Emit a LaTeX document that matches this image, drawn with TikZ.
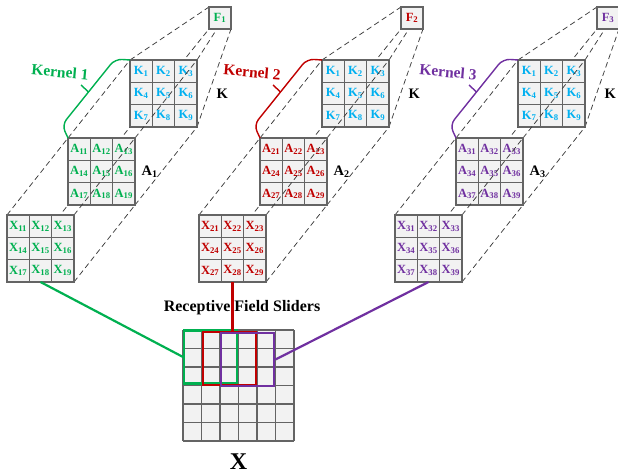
\documentclass[tikz,border=0pt]{standalone}
\usepackage{fontspec}
\setmainfont{Liberation Serif}
\usepackage{xcolor}
\definecolor{kgreen}{RGB}{0,176,80}
\definecolor{kred}{RGB}{192,0,0}
\definecolor{kpurple}{RGB}{112,48,160}
\definecolor{kblue}{RGB}{0,176,240}
\definecolor{cellgray}{RGB}{242,242,242}
\definecolor{edgegray}{RGB}{100,100,100}
\definecolor{dashgray}{RGB}{60,60,60}
\tikzset{
  frame/.style={minimum size=67pt,inner sep=0pt,outer sep=0pt},
  cell/.style={draw=edgegray,fill=cellgray,line width=1.5pt,minimum size=22.33pt,inner sep=0pt,font=\bfseries\fontsize{12.5}{12.5}\selectfont},
  link/.style={draw=dashgray,line width=0.75pt,dash pattern=on 5.5pt off 3.5pt},
  lbl/.style={font=\bfseries\fontsize{14.5}{14.5}\selectfont},
  brace/.style={line width=1.4pt,rounded corners=7pt},
  wire/.style={line width=2.2pt},
  slider/.style={line width=2.4pt,minimum size=53pt,inner sep=0pt}
}
\begin{document}
\begin{tikzpicture}[x=1pt,y=-1pt]
\useasboundingbox(0,0)rectangle(618,476);
% three kernels: input patch, activations, weights, output
\foreach \g/\bx/\gc in {1/7/kgreen,2/199/kred,3/395/kpurple}{
\node[frame](X\g)at(\bx+33.5,248.5){};
\node[frame](A\g)at(\bx+94.5,171.5){};
\node[frame](K\g)at(\bx+156.5,93.5){};
\node[frame,minimum size=22pt](F\g)at(\bx+213,18){};
\foreach \a in {north west,north east,south east,south west}\draw[link](K\g.\a)--(F\g.\a);
\node[cell,minimum size=22pt,text=\gc](Fb\g)at(F\g){F\textsubscript{\g}};
\foreach \r in {0,1,2}\foreach \c in {0,1,2}{\pgfmathtruncatemacro\k{3*\r+\c+1}
  \node[cell,text=kblue](K\g-\k)at([shift={({22.33*\c+11.17},{22.33*\r+11.17})}]K\g.north west){K\textsubscript{\k}};}
\foreach \a in {north west,north east,south east,south west}\draw[link](A\g.\a)--(K\g.\a);
\foreach \r in {0,1,2}\foreach \c in {0,1,2}{\pgfmathtruncatemacro\k{3*\r+\c+1}
  \node[cell,text=\gc](A\g-\k)at([shift={({22.33*\c+11.17},{22.33*\r+11.17})}]A\g.north west){A\textsubscript{\g\k}};}
\foreach \a in {north west,north east,south east,south west}\draw[link](X\g.\a)--(A\g.\a);
\foreach \r in {0,1,2}\foreach \c in {0,1,2}{\pgfmathtruncatemacro\k{3*\r+\c+1}
  \node[cell,text=\gc](X\g-\k)at([shift={({22.33*\c+11.17},{22.33*\r+11.17})}]X\g.north west){X\textsubscript{\g\k}};}
\node[lbl,anchor=west](Kl\g)at([xshift=16pt]K\g.east){K};
\node[lbl,anchor=west](Al\g)at([xshift=3pt]A\g.east){A\textsubscript{\g}};
\node[text=\gc,rotate=-5,font=\bfseries\fontsize{15.5}{15.5}\selectfont](Kn\g)at(\bx+53,72){Kernel \g};
\draw[brace,draw=\gc](A\g.north west)--(\bx+55,125)--(\bx+108,59)--(K\g.north west);
\draw[brace,draw=\gc](\bx+81.5,92)--(\bx+74,85);
}
% input image with sliders
\fill[cellgray](183,330)rectangle(294,441);
\foreach \i in {0,...,6}{\draw[edgegray,line width=1.3pt](183+18.5*\i,330)--(183+18.5*\i,441);
  \draw[edgegray,line width=1.3pt](183,330+18.5*\i)--(294,330+18.5*\i);}
\node[slider,draw=kgreen](S1)at(210.75,357){};
\node[slider,draw=kred](S2)at(229.25,358.5){};
\node[slider,draw=kpurple](S3)at(247.75,359.5){};
\draw[wire,kgreen](X1.south)--(S1.west);
\draw[wire,kred](X2.south)--(X2.south|-S2.north);
\draw[wire,kpurple](X3.south)--(S3.east);
\node[font=\bfseries\fontsize{16}{16}\selectfont](rfs)at(242,308){Receptive Field Sliders};
\node[font=\bfseries\fontsize{24}{24}\selectfont](xlab)at(238.5,462){X};
\end{tikzpicture}
\end{document}
